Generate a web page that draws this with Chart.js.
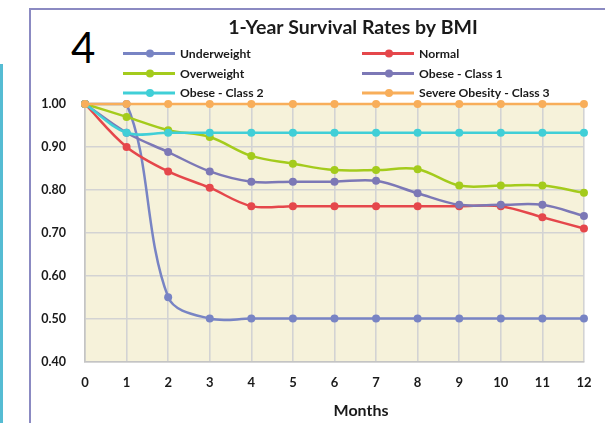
<!DOCTYPE html>
<html>
<head>
<meta charset="utf-8">
<script src="https://cdn.jsdelivr.net/npm/chart.js@4.4.1/dist/chart.umd.min.js"></script>
<style>
  html, body { margin: 0; padding: 0; background: #ffffff; overflow: hidden; }
  #wrap { position: relative; width: 605px; height: 423px; }
  #sidebar { position: absolute; left: 0; top: 64px; width: 3px; height: 359px; background: #55bcd3; }
  #frame { position: absolute; left: 29px; top: 8px; width: 700px; height: 500px;
           border-left: 2px solid #8b8ac2; border-top: 2px solid #8b8ac2; }
  #slideNo { position: absolute; left: 71px; top: 26px; font: 42px Lato, "Open Sans", sans-serif; color: #000; line-height: 1; }
  canvas { position: absolute; left: 0; top: 0; }
</style>
</head>
<body>
<div id="wrap">
  <div id="sidebar"></div>
  <div id="frame"></div>
  <div id="slideNo">4</div>
  <canvas id="chart" width="605" height="423"></canvas>
</div>
<script>
// Months since start
const months = ['0', '1', '2', '3', '4', '5', '6', '7', '8', '9', '10', '11', '12'];

// Survival proportion per BMI group
const underweight = [1.00, 1.00, 0.55, 0.50, 0.50, 0.50, 0.50, 0.50, 0.50, 0.50, 0.50, 0.50, 0.50];
const normal      = [1.00, 0.90, 0.843, 0.805, 0.762, 0.762, 0.762, 0.762, 0.762, 0.762, 0.762, 0.736, 0.710];
const overweight  = [1.00, 0.970, 0.939, 0.923, 0.879, 0.861, 0.846, 0.846, 0.848, 0.810, 0.810, 0.810, 0.793];
const obese1      = [1.00, 0.933, 0.888, 0.843, 0.819, 0.819, 0.819, 0.821, 0.792, 0.765, 0.765, 0.765, 0.739];
const obese2      = [1.00, 0.933, 0.933, 0.933, 0.933, 0.933, 0.933, 0.933, 0.933, 0.933, 0.933, 0.933, 0.933];
const severe      = [1.00, 1.00, 1.00, 1.00, 1.00, 1.00, 1.00, 1.00, 1.00, 1.00, 1.00, 1.00, 1.00];

const seriesNames = ['Underweight', 'Normal', 'Overweight', 'Obese - Class 1', 'Obese - Class 2', 'Severe Obesity - Class 3'];
const seriesValues = [underweight, normal, overweight, obese1, obese2, severe];
const seriesColors = ['#7884c4', '#e5474b', '#a4cb1c', '#7c78b6', '#40cfd7', '#f8ae5a'];

// Y axis tick values
const yTicks = [0.40, 0.50, 0.60, 0.70, 0.80, 0.90, 1.00];

const chartTitle = '1-Year Survival Rates by BMI';
const xAxisTitle = 'Months';

const FONT = 'Lato, "Open Sans", sans-serif';

const datasets = seriesNames.map((name, i) => ({
  label: name,
  data: seriesValues[i],
  borderColor: seriesColors[i],
  backgroundColor: seriesColors[i],
  pointBackgroundColor: seriesColors[i],
  pointBorderColor: seriesColors[i],
  pointRadius: 4,
  pointBorderWidth: 0,
  borderWidth: 2.5,
  tension: 0.35,
  clip: false,
  order: seriesNames.length - 1 - i   // later series painted on top
}));

// Cream plot background
const plotBackground = {
  id: 'plotBackground',
  beforeDraw(chart) {
    const { ctx, chartArea: a } = chart;
    ctx.save();
    ctx.fillStyle = '#f6f2da';
    ctx.fillRect(a.left, a.top, a.right - a.left, a.bottom - a.top);
    ctx.restore();
  }
};

// Title, two-column legend and x-axis caption
const decorations = {
  id: 'decorations',
  afterDraw(chart) {
    const { ctx } = chart;
    ctx.save();
    ctx.fillStyle = '#1a1a1a';
    ctx.textBaseline = 'middle';
    ctx.textAlign = 'center';
    ctx.font = 'bold 19.5px ' + FONT;
    ctx.fillText(chartTitle, 353, 28);

    ctx.font = 'bold 16px ' + FONT;
    ctx.fillText(xAxisTitle, 361, 411);

    // legend: two columns, three rows
    const cols = [123, 362];
    const rows = [53.5, 73.5, 93];
    ctx.font = 'bold 12.2px ' + FONT;
    ctx.textAlign = 'left';
    chart.data.datasets.forEach((ds, i) => {
      const x = cols[i % 2];
      const y = rows[Math.floor(i / 2)];
      ctx.strokeStyle = ds.borderColor;
      ctx.lineWidth = 3;
      ctx.beginPath();
      ctx.moveTo(x, y);
      ctx.lineTo(x + 52, y);
      ctx.stroke();
      ctx.fillStyle = ds.borderColor;
      ctx.beginPath();
      ctx.arc(x + 27, y, 4, 0, Math.PI * 2);
      ctx.fill();
      ctx.fillStyle = '#1a1a1a';
      ctx.fillText(ds.label, x + 57, y + 0.5);
    });
    ctx.restore();
  }
};

new Chart(document.getElementById('chart'), {
  type: 'line',
  data: { labels: months, datasets },
  options: {
    responsive: false,
    animation: false,
    devicePixelRatio: 1,
    layout: { padding: { top: 104, right: 21, left: 0, bottom: 0 } },
    plugins: {
      legend: { display: false },
      title: { display: false },
      tooltip: { enabled: false }
    },
    scales: {
      x: {
        type: 'category',
        offset: false,
        afterFit(scale) { scale.height = 61.5; },
        grid: { color: '#d3d3d3', lineWidth: 1.6, drawTicks: false },
        border: { color: '#c4c4c4', width: 1.6 },
        ticks: { color: '#1a1a1a', font: { family: FONT, size: 13, weight: 'bold' }, padding: 13.5, maxRotation: 0 }
      },
      y: {
        min: yTicks[0],
        max: yTicks[yTicks.length - 1],
        afterFit(scale) { scale.width = 85; },
        afterBuildTicks(scale) { scale.ticks = yTicks.map(v => ({ value: v })); },
        grid: { color: '#d3d3d3', lineWidth: 1.6, drawTicks: false },
        border: { color: '#c4c4c4', width: 1.6 },
        ticks: {
          color: '#1a1a1a',
          font: { family: FONT, size: 12.5, weight: 'bold' },
          padding: 19,
          callback: v => Number(v).toFixed(2)
        }
      }
    }
  },
  plugins: [plotBackground, decorations]
});
</script>
</body>
</html>
